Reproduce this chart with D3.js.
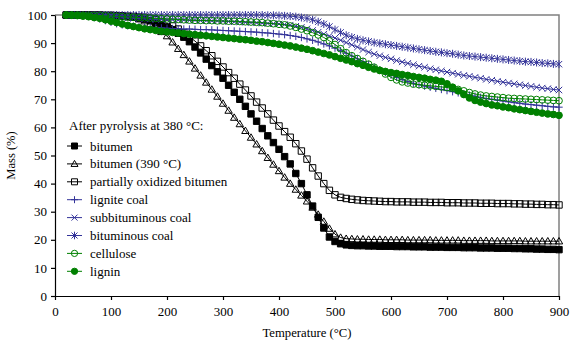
<!DOCTYPE html>
<html>
<head>
<meta charset="utf-8">
<script src="https://cdn.jsdelivr.net/npm/d3@7"></script>
<style>
  body { margin: 0; background: #fff; }
  svg text { font-family: "Liberation Serif", "Times New Roman", serif; }
</style>
</head>
<body>
<svg id="chart" width="570" height="346"></svg>
<script>
// temperature grid (°C)
const temps = [
  20,30,40,50,60,70,80,90,100,110,
  120,130,140,150,160,170,180,190,200,210,
  220,230,240,250,260,270,280,290,300,310,
  320,330,340,350,360,370,380,390,400,410,
  420,430,440,450,460,470,480,490,500,510,
  520,530,540,550,560,570,580,590,600,610,
  620,630,640,650,660,670,680,690,700,710,
  720,730,740,750,760,770,780,790,800,810,
  820,830,840,850,860,870,880,890,900
];

// mass (%) per series, one value per temperature
const bitumen = [
  100,100,100,100,100,99.9,99.9,99.8,99.8,99.7,
  99.6,99.4,99.2,98.9,98.5,98,97.3,96.6,95.7,94.7,
  93.5,92.1,90.5,88.6,86.5,84.3,82,79.8,77.5,75,
  72.5,70,67.5,64.8,62.2,59.6,57,54.6,52.2,49.6,
  47,43.6,40,36,32,28,24.2,21,19.4,18.6,
  18.2,18,17.9,17.9,17.8,17.8,17.7,17.7,17.7,17.6,
  17.6,17.6,17.5,17.5,17.5,17.4,17.4,17.4,17.3,17.3,
  17.3,17.2,17.2,17.2,17.1,17.1,17.1,17,17,17,
  16.9,16.9,16.8,16.8,16.7,16.7,16.6,16.6,16.5
];
const bitumen390 = [
  100,100,100,100,100,100,99.9,99.9,99.8,99.7,
  99.5,99.3,99,98.5,97.8,96.8,95.5,94,92.5,90.3,
  88,85.8,83.5,81,78.5,76,73.5,71,68.5,66,
  63.5,61.2,58.8,56.4,54,51.6,49.2,46.8,44.5,42.2,
  40,37.9,35.8,33.7,31.5,29,26.5,24,22,20.8,
  20.4,20.3,20.2,20.2,20.1,20.1,20.1,20,20,20,
  20,19.9,19.9,19.9,19.9,19.9,19.8,19.8,19.8,19.8,
  19.8,19.7,19.7,19.7,19.7,19.7,19.6,19.6,19.6,19.6,
  19.6,19.6,19.5,19.5,19.5,19.5,19.5,19.5,19.5
];
const oxidized = [
  100,100,100,100,100,100,100,99.9,99.9,99.8,
  99.7,99.6,99.5,99.3,99.2,98.8,98.3,97.7,97,96.1,
  95,93.7,92.3,90.7,89,87.3,85.5,83.5,81.5,79.5,
  77.5,75.4,73.3,71.2,69,66.9,64.8,62.6,60.5,58.5,
  56.5,54.2,51.6,48.7,45.6,42.7,40,37.6,36,35.1,
  34.7,34.4,34.2,34,33.9,33.8,33.7,33.6,33.6,33.5,
  33.5,33.5,33.4,33.4,33.4,33.3,33.3,33.3,33.2,33.2,
  33.2,33.1,33.1,33.1,33,33,33,32.9,32.9,32.9,
  32.8,32.8,32.7,32.7,32.6,32.6,32.5,32.5,32.4
];
const lignite = [
  100,100,99.9,99.7,99.5,99.1,98.6,98,97.4,96.9,
  96.5,96.2,96,95.8,95.7,95.6,95.5,95.4,95.3,95.2,
  95.1,95,95,94.9,94.8,94.8,94.7,94.6,94.5,94.4,
  94.3,94.2,94.1,94,93.9,93.7,93.6,93.4,93.2,93,
  92.7,92.4,92,91.5,91,90.4,89.7,89,88.2,87.3,
  86.4,85.4,84.4,83.4,82.4,81.4,80.4,79.5,78.6,77.8,
  77,76.3,75.7,75.2,74.7,74.3,73.9,73.5,73.1,72.7,
  72.3,71.9,71.5,71.1,70.7,70.3,70,69.7,69.4,69.1,
  68.8,68.6,68.3,68.1,67.9,67.7,67.5,67.3,67.2
];
const subbituminous = [
  100,100,100,100,99.9,99.9,99.8,99.7,99.6,99.4,
  99.2,99,98.8,98.7,98.6,98.5,98.4,98.4,98.3,98.3,
  98.2,98.2,98.1,98.1,98,98,97.9,97.9,97.8,97.7,
  97.6,97.5,97.4,97.3,97.2,97.1,97,96.9,96.8,96.6,
  96.4,96,95.6,95.1,94.5,93.9,93.2,92.5,91.8,91,
  90.2,89.4,88.6,87.7,86.8,86.1,85.5,84.9,84.4,83.8,
  83.3,82.8,82.3,81.8,81.4,80.9,80.5,80.1,79.7,79.3,
  78.9,78.5,78.2,77.8,77.5,77.1,76.8,76.4,76.1,75.8,
  75.5,75.2,74.9,74.6,74.3,74,73.8,73.5,73.3
];
const bituminous = [
  100,100,100,100,100,100,100,100,100,100,
  100,100,100,100,100,100,100,100,100,100,
  100,100,100,100,100,100,100,100,100,100,
  100,100,100,100,100,100,99.9,99.9,99.8,99.7,
  99.6,99.4,99.1,98.8,98.3,97.6,96.8,95.9,94.8,93.8,
  92.8,92.1,91.5,91,90.6,90.2,89.9,89.6,89.3,89,
  88.7,88.4,88.1,87.8,87.5,87.2,86.9,86.7,86.4,86.2,
  85.9,85.6,85.4,85.2,85,84.8,84.6,84.4,84.2,84,
  83.8,83.6,83.4,83.3,83.1,82.9,82.8,82.6,82.5
];
const cellulose = [
  100,100,100,99.9,99.9,99.8,99.8,99.7,99.6,99.5,
  99.4,99.3,99.2,99.1,99,98.9,98.8,98.7,98.6,98.5,
  98.4,98.3,98.2,98.1,98.1,98,98,97.9,97.9,97.8,
  97.8,97.7,97.6,97.5,97.4,97.3,97.1,96.9,96.7,96.5,
  96.1,95.6,95,94.4,93.7,92.9,92,90.8,89.5,88,
  86.6,85.5,84.5,83.5,82.5,81.4,80.3,79,77.8,76.9,
  76.2,75.8,75.4,75.2,75,74.8,74.6,74.4,74.2,73.9,
  73.5,73,72.4,71.9,71.5,71.2,71,70.8,70.6,70.4,
  70.3,70.2,70.1,70,69.9,69.8,69.7,69.6,69.5
];
const lignin = [
  100,99.9,99.8,99.6,99.4,99.1,98.8,98.3,97.8,97.3,
  96.8,96.3,95.9,95.5,95.1,94.8,94.5,94.2,94,93.8,
  93.6,93.4,93.2,93,92.8,92.6,92.4,92.2,92,91.8,
  91.6,91.4,91.2,91,90.7,90.5,90.2,89.9,89.6,89.3,
  89,88.6,88.2,87.8,87.3,86.8,86.3,85.8,85.2,84.6,
  84,83.4,82.7,82.1,81.4,80.8,80.3,79.9,79.5,79.2,
  78.8,78.5,78.1,77.8,77.5,77.1,76.8,76.4,75.5,74.3,
  73,71.7,70.5,69.6,69,68.5,68,67.7,67.3,67,
  66.6,66.3,66,65.7,65.4,65.1,64.8,64.6,64.3
];

const seriesNames = ["bitumen", "bitumen (390 °C)", "partially oxidized bitumen", "lignite coal",
  "subbituminous coal", "bituminous coal", "cellulose", "lignin"];
const seriesValues = [bitumen, bitumen390, oxidized, lignite, subbituminous, bituminous, cellulose, lignin];
const seriesMarkers = ["squareFilled", "triangle", "square", "plus", "cross", "star", "circle", "circleFilled"];
const seriesColors = ["#000000", "#000000", "#000000", "#333399", "#333399", "#333399", "#008000", "#008000"];

const xTicks = [0, 100, 200, 300, 400, 500, 600, 700, 800, 900];
const yTicks = [0, 10, 20, 30, 40, 50, 60, 70, 80, 90, 100];

const size = {
  width: 570, height: 346,
  plot: { left: 55, right: 559, top: 15, bottom: 296 }
};

const svg = d3.select("#chart");

const xScale = d3.scaleLinear([0, 900], [size.plot.left, size.plot.right]);
const yScale = d3.scaleLinear([0, 100], [size.plot.bottom, size.plot.top]);

// marker shapes
const markerPath = (type, r) => {
  switch (type) {
    case "squareFilled":
    case "square":
      return `M${-r},${-r}h${2 * r}v${2 * r}h${-2 * r}Z`;
    case "triangle":
      return `M0,${-r - 0.5}L${r + 0.5},${r * 0.85}L${-r - 0.5},${r * 0.85}Z`;
    case "plus":
      return `M${-r - 0.5},0H${r + 0.5}M0,${-r - 0.5}V${r + 0.5}`;
    case "cross":
      return `M${-r},${-r}L${r},${r}M${-r},${r}L${r},${-r}`;
    case "star":
      return `M${-r},${-r}L${r},${r}M${-r},${r}L${r},${-r}M0,${-r - 0.8}V${r + 0.8}`;
    default: {
      const c = r * 1.05;
      return `M${c},0A${c},${c} 0 1,1 ${-c},0A${c},${c} 0 1,1 ${c},0Z`;
    }
  }
};
const markerFill = (type, color) =>
  (type === "squareFilled" || type === "circleFilled") ? color : "none";

// frame: top and right borders in gray
svg.append("path")
  .attr("d", `M${size.plot.left},${size.plot.top}H${size.plot.right}V${size.plot.bottom}`)
  .attr("fill", "none")
  .attr("stroke", "#808080")
  .attr("stroke-width", 1.5);

// axes
const xAxis = svg.append("g")
  .attr("transform", `translate(0,${size.plot.bottom})`)
  .call(d3.axisBottom(xScale).tickValues(xTicks).tickSize(4).tickSizeOuter(0).tickPadding(7));
const yAxis = svg.append("g")
  .attr("transform", `translate(${size.plot.left},0)`)
  .call(d3.axisLeft(yScale).tickValues(yTicks).tickSize(4).tickSizeOuter(0).tickPadding(4));
[xAxis, yAxis].forEach(ax => {
  ax.select(".domain").attr("stroke", "#000").attr("stroke-width", 1.2);
  ax.selectAll(".tick line").attr("stroke", "#000").attr("stroke-width", 1.2);
  ax.selectAll(".tick text")
    .attr("font-size", 13)
    .attr("fill", "#000");
});

svg.append("text")
  .attr("x", (size.plot.left + size.plot.right) / 2)
  .attr("y", 337)
  .attr("text-anchor", "middle")
  .attr("font-size", 12.7)
  .text("Temperature (°C)");

svg.append("text")
  .attr("transform", `translate(15,${(size.plot.top + size.plot.bottom) / 2}) rotate(-90)`)
  .attr("text-anchor", "middle")
  .attr("font-size", 12.5)
  .text("Mass (%)");

// series
const lineGen = d3.line()
  .x(d => xScale(d[0]))
  .y(d => yScale(d[1]));

const seriesG = svg.append("g").attr("id", "series");
seriesValues.forEach((vals, i) => {
  const pts = temps.map((t, j) => [t, vals[j]]);
  const color = seriesColors[i];
  const type = seriesMarkers[i];
  const g = seriesG.append("g");
  g.append("path")
    .attr("d", lineGen(pts))
    .attr("fill", "none")
    .attr("stroke", color)
    .attr("stroke-width", 1);
  g.selectAll("path.m")
    .data(pts)
    .join("path")
    .attr("class", "m")
    .attr("transform", d => `translate(${xScale(d[0])},${yScale(d[1])})`)
    .attr("d", markerPath(type, 3.2))
    .attr("fill", markerFill(type, color))
    .attr("stroke", color)
    .attr("stroke-width", 1);
});

// legend
const legend = svg.append("g").attr("id", "legend");
legend.append("text")
  .attr("x", 69)
  .attr("y", 130)
  .attr("font-size", 13)
  .text("After pyrolysis at 380 °C:");
seriesNames.forEach((name, i) => {
  const cy = 146 + i * 17.9;
  const color = seriesColors[i];
  const type = seriesMarkers[i];
  legend.append("line")
    .attr("x1", 67).attr("x2", 82)
    .attr("y1", cy).attr("y2", cy)
    .attr("stroke", color)
    .attr("stroke-width", 1);
  legend.append("path")
    .attr("transform", `translate(74.5,${cy})`)
    .attr("d", markerPath(type, 3))
    .attr("fill", markerFill(type, color))
    .attr("stroke", color)
    .attr("stroke-width", 1);
  legend.append("text")
    .attr("x", 90)
    .attr("y", cy + 4.5)
    .attr("font-size", 13)
    .text(name);
});
</script>
</body>
</html>
